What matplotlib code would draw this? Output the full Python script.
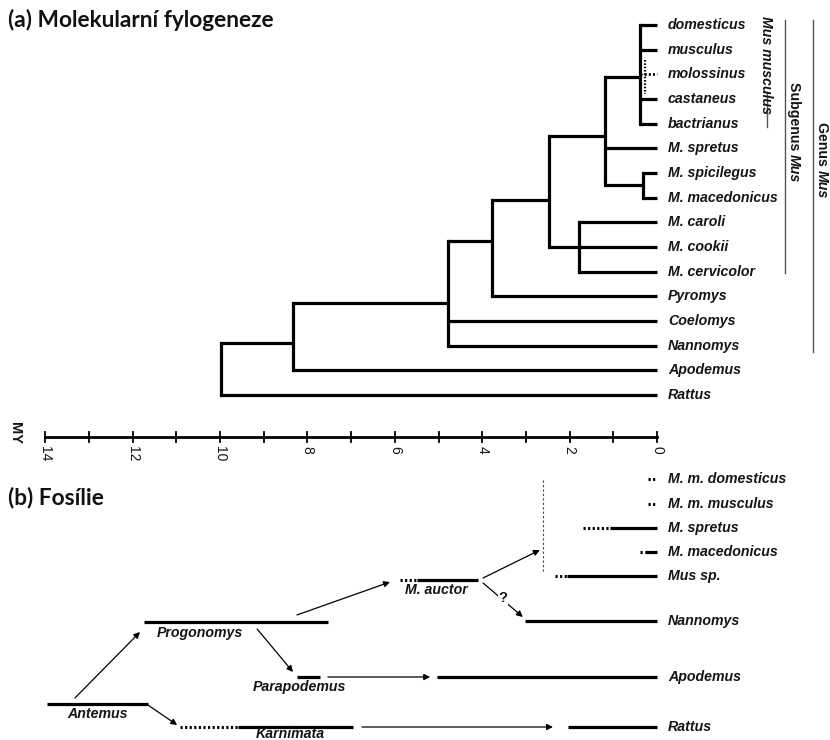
import matplotlib
matplotlib.use("Agg")
import matplotlib.pyplot as plt

# ---- (a) molecular phylogeny -------------------------------------------
leaves = ['domesticus', 'musculus', 'molossinus', 'castaneus', 'bactrianus',
          'M. spretus', 'M. spicilegus', 'M. macedonicus', 'M. caroli',
          'M. cookii', 'M. cervicolor', 'Pyromys', 'Coelomys', 'Nannomys',
          'Apodemus', 'Rattus']
dotted_leaves = ['molossinus']

# internal nodes: name -> (age in MY, children, row where its stem attaches)
node_names = ['mm', 'spi', 'A', 'car', 'B', 'C', 'D', 'E', 'root']
node_age = [0.39, 0.32, 1.19, 1.78, 2.47, 3.78, 4.78, 8.34, 9.98]
node_children = [[0, 1, 2, 3, 4], [6, 7], ['mm', 5, 'spi'], [8, 9, 10],
                 ['A', 'car'], ['B', 11], ['C', 12, 13], ['D', 14], ['E', 15]]
node_attach = [2.1, 6.5, 4.5, 9.0, 7.1, 8.76, 11.27, 12.9, None]

axis_ticks = list(range(0, 15))
axis_labels = [0, 2, 4, 6, 8, 10, 12, 14]

# ---- (b) fossil record ---------------------------------------------------
extant = ['M. m. domesticus', 'M. m. musculus', 'M. spretus', 'M. macedonicus',
          'Mus sp.', 'Nannomys', 'Apodemus', 'Rattus']
extant_dot_from = [0.20, 0.20, 1.69, 0.39, 2.33, None, None, None]
extant_solid_from = [None, None, 1.08, 0.27, 2.06, 3.02, 5.03, 2.04]
extant_y = [479, 504, 528, 552, 576, 621, 677, 727]

fossils = ['M. auctor', 'Progonomys', 'Parapodemus', 'Antemus', 'Karnimata']
fossil_dot_from = [5.88, None, None, None, 10.92]
fossil_from = [5.49, 11.74, 8.24, 13.96, 9.59]
fossil_to = [4.10, 7.53, 7.71, 11.65, 6.96]
fossil_y = [580, 622, 677, 704, 727]
fossil_label_x = [5.06, 10.46, 8.19, 12.81, 8.40]

# arrows: (from MY, from y, to MY, to y)
arrows = [(13.32, 698, 11.83, 632), (8.24, 615, 6.11, 582),
          (9.15, 629, 8.33, 672), (11.65, 705, 10.98, 725),
          (7.53, 677, 5.19, 677), (6.75, 727, 2.38, 727),
          (3.98, 578, 2.68, 550), (3.98, 583, 3.07, 617)]

# ---- layout --------------------------------------------------------------
W, H = 830, 740
PX0, PX_PER_MY = 657, 43.7          # pixel of 0 MY, pixels per MY
ROW0, ROW_STEP = 25, 24.67
AXIS_Y = 437
LW = 2.3
DOTS = (0, (0.7, 0.8))
FS = 10.2

def mx(px):
    return (PX0 - px) / PX_PER_MY

def row_y(r):
    return ROW0 + ROW_STEP * r

fig = plt.figure(figsize=(W / 100, H / 100), dpi=100)
ax = fig.add_axes([0, 0, 1, 1])
ax.set_xlim(mx(0), mx(W))
ax.set_ylim(H, 0)
ax.axis('off')

lab = dict(family='Liberation Sans', weight='bold', style='italic',
           fontsize=FS, color='#151515')

# tree
pos = {}
for name, age, att in zip(node_names, node_age, node_attach):
    pos[name] = (age, row_y(att) if att is not None else None)

def child_pos(c):
    if isinstance(c, str):
        return pos[c]
    return 0.0, row_y(c)

for name, age, kids in zip(node_names, node_age, node_children):
    ys = [child_pos(c)[1] for c in kids]
    ax.plot([age, age], [min(ys), max(ys)], color='k', lw=LW,
            solid_capstyle='projecting')
    for c in kids:
        cx, cy = child_pos(c)
        dotted = not isinstance(c, str) and leaves[c] in dotted_leaves
        ax.plot([age, cx], [cy, cy], color='k', lw=LW if not dotted else 2.0,
                ls=DOTS if dotted else '-', solid_capstyle='butt')

# faint dotted link inside the M. musculus cluster
ax.plot([0.27, 0.27], [row_y(1.4), row_y(2.8)], color='k', lw=1.6, ls=DOTS)

for i, name in enumerate(leaves):
    ax.text(mx(668), row_y(i), name, ha='left', va='center', **lab)

# brackets on the right
br = dict(color='#555555', lw=1.0)
ax.plot([mx(767), mx(767)], [93, 127], **br)
ax.plot([mx(785), mx(785)], [20, 273], **br)
ax.plot([mx(813), mx(813)], [20, 352], **br)

fig.canvas.draw()
rend = fig.canvas.get_renderer()

def vlabel(x_px, y_top, parts):
    y = y_top
    for txt, style in parts:
        t = ax.text(mx(x_px), y, txt, rotation=270, rotation_mode='anchor',
                    ha='left', va='baseline', family='Liberation Sans',
                    weight='bold', style=style, fontsize=FS, color='#151515')
        y += t.get_window_extent(rend).height

vlabel(762, 16, [('Mus musculus', 'italic')])
vlabel(790, 82, [('Subgenus ', 'normal'), ('Mus', 'italic')])
vlabel(818, 122, [('Genus ', 'normal'), ('Mus', 'italic')])

# time axis
ax.plot([axis_ticks[-1], axis_ticks[0]], [AXIS_Y, AXIS_Y], color='k', lw=2.0)
for t in axis_ticks:
    ax.plot([t, t], [AXIS_Y - 5, AXIS_Y + 5], color='k', lw=1.3)
for t in axis_labels:
    ax.text(t, AXIS_Y + 9, str(t), rotation=270, ha='center', va='top',
            family='Liberation Sans', fontsize=10, color='#151515')
ax.text(mx(15), AXIS_Y - 4, 'MY', rotation=270, ha='center', va='center',
        family='Liberation Sans', weight='bold', fontsize=10.5, color='#151515')

# fossils: extant lineages
for name, d0, s0, y in zip(extant, extant_dot_from, extant_solid_from, extant_y):
    if d0 is not None:
        ax.plot([d0, s0 if s0 is not None else 0.05], [y, y], color='k',
                lw=2.2, ls=DOTS)
    if s0 is not None:
        ax.plot([s0, 0], [y, y], color='k', lw=LW, solid_capstyle='butt')
    ax.text(mx(668), y, name, ha='left', va='center', **lab)

# fossil genera, names under their bars (the last one sits on the page edge)
for name, d0, a, b, y, lx in zip(fossils, fossil_dot_from, fossil_from,
                                 fossil_to, fossil_y, fossil_label_x):
    if d0 is not None:
        ax.plot([d0, a], [y, y], color='k', lw=2.2, ls=DOTS)
    ax.plot([a, b], [y, y], color='k', lw=LW, solid_capstyle='butt')
    ax.text(lx, min(y + 14.5, H - 1.5), name, ha='center', va='baseline', **lab)

for x0, y0, x1, y1 in arrows:
    ax.annotate('', xy=(x1, y1), xytext=(x0, y0),
                arrowprops=dict(arrowstyle='-|>', color='k', lw=0.9,
                                mutation_scale=9, shrinkA=0, shrinkB=0))
ax.text(mx(503), 598, '?', ha='center', va='center', family='Liberation Sans',
        weight='bold', fontsize=10.5, color='#151515',
        bbox=dict(facecolor='white', edgecolor='none', pad=0.3))

ax.plot([mx(543), mx(543)], [480, 573], color='#444444', lw=0.8,
        ls=(0, (2, 2)))

# panel titles
ttl = dict(family='Lato', weight='bold', fontsize=16.3, color='#111111',
           ha='left', va='center')
fig.text(8 / W, 1 - 20 / H, '(a) Molekularní fylogeneze', **ttl)
fig.text(8 / W, 1 - 497 / H, '(b) Fosílie', **ttl)

fig.savefig('out.png', dpi=100, facecolor='white')
